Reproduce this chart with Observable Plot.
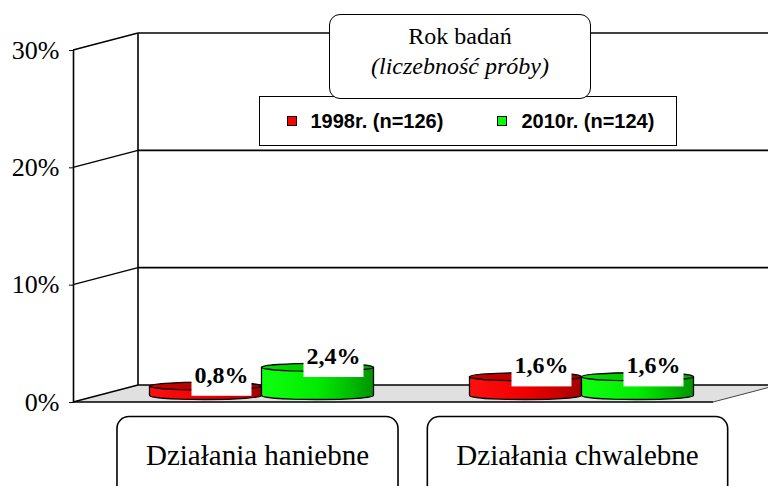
<!DOCTYPE html>
<html>
<head>
<meta charset="utf-8">
<script src="https://cdn.jsdelivr.net/npm/d3@7"></script>
<script src="https://cdn.jsdelivr.net/npm/@observablehq/plot@0.6"></script>
<style>
  body { margin: 0; background: #fff; }
  #wrap { position: relative; width: 768px; height: 486px; overflow: hidden; background: #fff;
          font-family: "Liberation Serif", "Times New Roman", serif; }
  #wrap > svg { position: absolute; left: 0; top: 0; }
  .title-box { position: absolute; left: 329px; top: 14px; width: 262px; height: 85px; box-sizing: border-box;
               border: 1.6px solid #000; border-radius: 11px; background: #fff; z-index: 3; }
  .title-box div { position: absolute; left: 0; right: 0; text-align: center; font-size: 24px; line-height: 24px; color: #000; }
  .legend-box { position: absolute; left: 259px; top: 96px; width: 418px; height: 50px; box-sizing: border-box;
                border: 1.6px solid #000; background: #fff; z-index: 2;
                font-family: "Liberation Sans", Arial, sans-serif; font-weight: bold; font-size: 20px; color: #000; }
  .legend-box .sw { position: absolute; width: 10px; height: 10px; box-sizing: border-box; border: 1px solid #000; }
  .legend-box .lt { position: absolute; line-height: 20px; white-space: nowrap; }
</style>
</head>
<body>
<div id="wrap"></div>
<script>
// ---------------- data ----------------
const categories = ["Działania haniebne", "Działania chwalebne"];
const seriesNames = ["1998r. (n=126)", "2010r. (n=124)"];
const values1998 = [0.8, 1.6];
const values2010 = [2.4, 1.6];
const yTicks = [0, 10, 20, 30];
const titleLines = ["Rok badań", "(liczebność próby)"];

// ---------------- layout / style constants ----------------
const W = 768, H = 486;
const mL = 73, mR = 55, mT = 50, mB = 84;
const DX = 65, DY = -17;      // depth of the 3D box (pixels)
const BDX = 28, BDY = -7;     // bars sit at mid-depth
const BAR_W = 0.35;           // bar width in category units
const pxPerUnit = (W - mL - mR) / categories.length;
const R = BAR_W * pxPerUnit / 2;
const ELL = 4 / R;            // ellipse vertical/horizontal ratio
const VALUE_FS = 24, CAT_FS = 29;
const swatch = ["#ff0000", "#00ff00"];
const gradIds = [["redBody", "redTop"], ["greenBody", "greenTop"]];

const rows = [];
categories.forEach((c, i) => {
  [values1998, values2010].forEach((vals, s) => {
    const x1 = i + 0.5 + (s === 0 ? -BAR_W : 0);
    rows.push({category: c, series: seriesNames[s], s, value: vals[i], x1, x2: x1 + BAR_W, cx: x1 + BAR_W / 2});
  });
});

const fmt = v => v.toFixed(1).replace(".", ",") + "%";

const ellipse = {
  draw(ctx, size) {
    const rx = Math.sqrt(size / Math.PI), ry = rx * ELL, k = 0.5523;
    ctx.moveTo(-rx, 0);
    ctx.bezierCurveTo(-rx, -k * ry, -k * rx, -ry, 0, -ry);
    ctx.bezierCurveTo(k * rx, -ry, rx, -k * ry, rx, 0);
    ctx.bezierCurveTo(rx, k * ry, k * rx, ry, 0, ry);
    ctx.bezierCurveTo(-k * rx, ry, -rx, k * ry, -rx, 0);
    ctx.closePath();
  }
};

function defsMark() {
  const defs = d3.create("svg:defs");
  const mk = (id, stops) => {
    const g = defs.append("linearGradient").attr("id", id).attr("x1", 0).attr("x2", 1).attr("y1", 0).attr("y2", 0);
    stops.forEach(([o, c]) => g.append("stop").attr("offset", o).attr("stop-color", c));
  };
  mk("redBody", [[0, "#ff1010"], [0.5, "#f00000"], [0.78, "#cc0000"], [1, "#a00000"]]);
  mk("redTop", [[0, "#cc0000"], [1, "#a00000"]]);
  mk("greenBody", [[0, "#10ff10"], [0.5, "#00ec00"], [0.78, "#00c000"], [1, "#009400"]]);
  mk("greenTop", [[0, "#00e000"], [1, "#00a800"]]);
  return defs.node();
}

// 3D frame: floor, back wall, depth lines (drawn with Plot's own scales)
function frameMark(index, scales) {
  const {x, y} = scales;
  const g = d3.create("svg:g").attr("fill", "none");
  const X0 = x(0), X1 = x(categories.length), Y0 = y(0);
  g.append("path")
    .attr("d", `M${X0},${Y0}L${X0 + DX},${Y0 + DY}L${X1 + DX},${Y0 + DY}L${X1},${Y0}Z`)
    .attr("fill", "#e0e0e0");
  yTicks.forEach(v => {
    const yy = y(v);
    g.append("line").attr("x1", X0).attr("y1", yy).attr("x2", X0 + DX).attr("y2", yy + DY)
      .attr("stroke", "#000").attr("stroke-width", 1.4);
    g.append("line").attr("x1", X0 + DX).attr("y1", yy + DY).attr("x2", X1 + DX).attr("y2", yy + DY)
      .attr("stroke", "#000").attr("stroke-width", 1.6);
  });
  g.append("line").attr("x1", X0 + DX).attr("y1", y(0) + DY).attr("x2", X0 + DX).attr("y2", y(yTicks[yTicks.length - 1]) + DY)
    .attr("stroke", "#000").attr("stroke-width", 1.6);
  g.append("line").attr("x1", X1).attr("y1", Y0).attr("x2", X1 + DX).attr("y2", Y0 + DY)
    .attr("stroke", "#444").attr("stroke-width", 1);
  g.append("line").attr("x1", X0).attr("y1", Y0).attr("x2", X1).attr("y2", Y0)
    .attr("stroke", "#000").attr("stroke-width", 1.6);
  return g.node();
}

function cylinderMarks(s) {
  const d = rows.filter(r => r.s === s);
  const [bodyId, topId] = gradIds[s];
  const common = {dx: BDX, dy: BDY};
  return [
    Plot.dot(d, {x: "cx", y: 0, symbol: ellipse, r: R, fill: `url(#${bodyId})`, stroke: "#000", strokeWidth: 1.3, ...common}),
    Plot.rect(d, {x1: "x1", x2: "x2", y1: 0, y2: "value", fill: `url(#${bodyId})`, ...common}),
    Plot.ruleX(d, {x: "x1", y1: 0, y2: "value", stroke: "#000", strokeWidth: 1.3, ...common}),
    Plot.ruleX(d, {x: "x2", y1: 0, y2: "value", stroke: "#000", strokeWidth: 1.3, ...common}),
    Plot.dot(d, {x: "cx", y: "value", symbol: ellipse, r: R, fill: `url(#${topId})`, stroke: "#000", strokeWidth: 1.3, ...common})
  ];
}

const chart = Plot.plot({
  width: W,
  height: H,
  marginLeft: mL,
  marginRight: mR,
  marginTop: mT,
  marginBottom: mB,
  style: {fontFamily: "'Liberation Serif', 'Times New Roman', serif", fontSize: "26px", color: "#000", background: "transparent", overflow: "visible"},
  x: {domain: [0, categories.length], axis: null},
  y: {domain: [yTicks[0], yTicks[yTicks.length - 1]], ticks: yTicks, tickFormat: d => d + "%", tickSize: 4, tickPadding: 10, label: null, nice: false},
  marks: [
    defsMark,
    frameMark,
    Plot.ruleX([0], {y1: yTicks[0], y2: yTicks[yTicks.length - 1], stroke: "#000", strokeWidth: 1.6}),
    ...cylinderMarks(0),
    ...cylinderMarks(1),
    Plot.text(rows, {x: "cx", y: "value", text: d => fmt(d.value), dx: BDX + 16, dy: -18,
      fontWeight: "bold", fontSize: VALUE_FS, fill: "#000"}),
    Plot.text(categories, {x: (d, i) => i + 0.5, frameAnchor: "bottom", text: d => d, dx: 24, dy: 62,
      fontSize: CAT_FS, fill: "#000"})
  ]
});

const wrap = document.getElementById("wrap");
wrap.appendChild(chart);

// white boxes behind value labels, rounded frames around category labels
function boxesBehind(selector, pad, attrs) {
  chart.querySelectorAll(selector).forEach(t => {
    const bb = t.getBBox();
    const r = document.createElementNS("http://www.w3.org/2000/svg", "rect");
    r.setAttribute("x", bb.x - pad.l);
    r.setAttribute("y", bb.y - pad.t);
    r.setAttribute("width", bb.width + pad.l + pad.r);
    r.setAttribute("height", bb.height + pad.t + pad.b);
    const tr = t.getAttribute("transform");
    if (tr) r.setAttribute("transform", tr);
    for (const k in attrs) r.setAttribute(k, attrs[k]);
    t.parentNode.insertBefore(r, t);
  });
}
boxesBehind(`g[font-size="${VALUE_FS}"] text`, {l: 3, r: 3, t: 2, b: 8}, {fill: "#fff"});
boxesBehind(`g[font-size="${CAT_FS}"] text`, {l: 29, r: 29, t: 22, b: 60},
  {fill: "#fff", stroke: "#000", "stroke-width": 1.6, rx: 12, ry: 12});

// title box
const tb = document.createElement("div");
tb.className = "title-box";
const t1 = document.createElement("div"); t1.textContent = titleLines[0]; t1.style.top = "9px";
const t2 = document.createElement("div"); t2.textContent = titleLines[1]; t2.style.top = "39px"; t2.style.fontStyle = "italic";
tb.append(t1, t2);
wrap.appendChild(tb);

// legend box
const lb = document.createElement("div");
lb.className = "legend-box";
const swLeft = [26.5, 236.5], txLeft = [50.5, 261.5];
seriesNames.forEach((name, s) => {
  const sw = document.createElement("div");
  sw.className = "sw"; sw.style.left = swLeft[s] + "px"; sw.style.top = "18.5px"; sw.style.background = swatch[s];
  const lt = document.createElement("div");
  lt.className = "lt"; lt.style.left = txLeft[s] + "px"; lt.style.top = "13.5px"; lt.textContent = name;
  lb.append(sw, lt);
});
wrap.appendChild(lb);
</script>
</body>
</html>
